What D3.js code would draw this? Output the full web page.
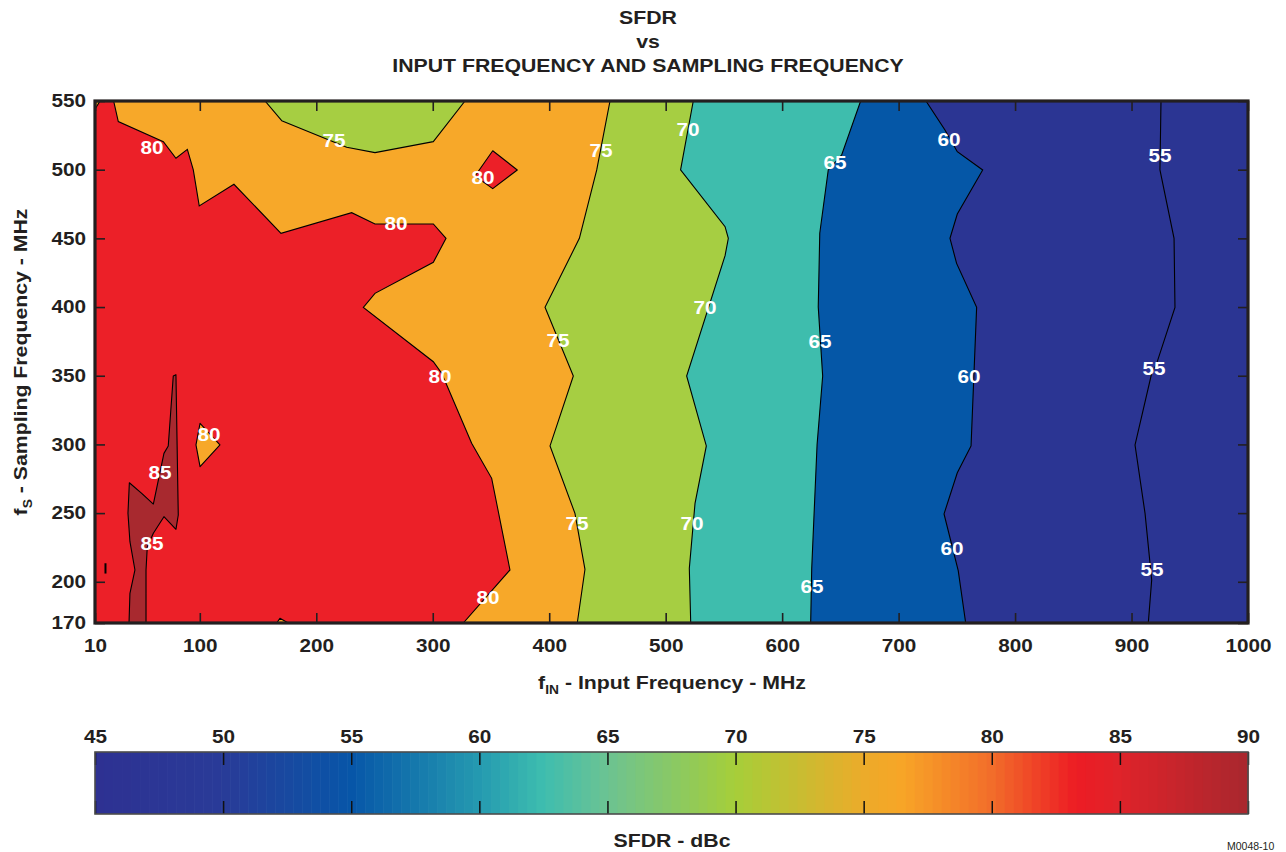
<!DOCTYPE html>
<html><head><meta charset="utf-8">
<script src="https://cdn.jsdelivr.net/npm/d3@7/dist/d3.min.js"></script>
<style>
body{margin:0;background:#fff;}
svg text{font-family:"Liberation Sans",Arial,Helvetica,sans-serif;font-weight:bold;fill:#231f20;}
</style></head><body>
<svg id="chart" width="1286" height="852"></svg>
<script>
// ---------- data ----------
const xTicks = [10,100,200,300,400,500,600,700,800,900,1000];
const yTicks = [170,200,250,300,350,400,450,500,550];
const cbTicks = [45,50,55,60,65,70,75,80,85,90];

// band fill colours
const bandColors = {b50:"#2b3593", b55:"#2b3593", b60:"#0557a7", b65:"#3ebdad", b70:"#a6ce42", b75:"#f7a829", b80:"#ec2028", b85:"#a8292f"};

// colour bar stops
const cbStops  = [45,50,55,60,62.5,65,70,75,76.5,80,83.3,85,90];
const cbColors = ["#2e3192","#293b98","#0756a8","#249ab0","#3ebdaf","#6cc392","#a6ce39","#ecab2a","#f7a527","#f26d2a","#ed1c24","#df232a","#a8272e"];

// contour boundaries [fIN, fS], listed from fS=550 down to fS=170
const c80 = [[26,550],[30,535],[68.7,520.4],[79.5,508.3],[89.3,514.8],[94.4,499.8],[99.5,473.6],[129.3,489.4],[169.7,453.7],[230.4,468.7],[250.4,460.5],[300.5,460.5],[311.4,450],[300.5,432.6],[250.4,410],[240.4,399.8],[300.5,360.2],[307.7,351.8],[333.4,300.8],[350.6,275.3],[366.3,208.6],[326.2,170]];
const c75 = [[452.2,550],[440.8,499.8],[425.9,450],[396.4,399.8],[420.7,349.8],[400.7,298.9],[422.1,249.8],[430.7,209.1],[424.1,170]];
const c70 = [[523.7,550],[512.8,499.8],[551,458.5],[553.8,450],[551,437.4],[518,349.8],[534.9,298.9],[525.2,257.1],[520.3,209.8],[521.5,170]];
const c65 = [[667.4,550],[651.1,510.7],[639.6,499.8],[632.3,453.7],[631,400],[634.8,349.8],[630,300],[625.4,209.8],[624.5,170]];
const c60 = [[723.5,550],[739.8,528.9],[750.4,513.1],[772.2,499.8],[750.4,467.7],[744.1,450],[749.8,431.8],[767,399.8],[762.2,298.9],[750.4,279.4],[739,249.4],[751.2,208.1],[757.6,170]];
const c55 = [[925.3,550],[924.4,499.8],[936.5,450],[937.3,399.8],[921.6,359],[917.3,351.8],[903,299.6],[911.6,249.8],[917.3,201.3],[914.4,170]];

// closed islands
const island75 = [[156,550],[170.3,535.7],[226.1,516.3],[250.4,512.4],[300.5,520.4],[327.7,550]];
const island80hi = [[351.5,513.8],[372.6,499.8],[351.5,486.2],[336.3,495.4]];
const island80lo = [[100.2,315.4],[117.3,299.6],[100.2,283.8],[96.7,299.6]];
const region85 = [[39.2,170],[40,191.6],[44.3,208.6],[40,229.2],[38.3,249.9],[39.5,272.1],[50.1,264.4],[60.1,256.6],[69.2,293.5],[72.9,298.9],[77.2,349.8],[79.5,350.8],[81.5,248.6],[79.5,238.2],[69.2,247.4],[60.1,235.3],[54.9,225.5],[53.8,208.6],[53.8,170]];
const sliverBottom = [[166,170],[168.8,173.4],[175.9,170]];
const sliverCorner = [[10,550],[14.3,550],[10,544]];
const speck85 = [[19,213.5],[19,206]];

// contour labels [fIN, fS, level]
const labelF  = [58.9,215.2,343.1,444.5,519.2,743.3,645.4,924.4,268.4,533.8,407.5,632.5,306.2,760.4,919.3,107.9,65.8,423.9,522.6,58.9,745.8,625.6,917.6,347.4];
const labelFs = [515.8,520.9,494,513.6,528.9,522.3,504.9,510,460.5,399.3,375.3,374.6,349.1,349.1,355.6,306.9,279.9,242.1,242.1,228.2,223.9,196.2,208.6,188.9];
const labelV  = [80,75,80,75,70,60,65,55,80,70,75,65,80,60,55,80,85,75,70,85,60,65,55,80];

// ---------- drawing ----------
const svg = d3.select("#chart");
const x = d3.scaleLinear([10,1000],[95,1248]);
const y = d3.scaleLinear([170,550],[623,101]);
const line = d3.line().x(d=>x(d[0])).y(d=>y(d[1]));
const inkColor = "#231f20";
const K = 1.15; // horizontal stretch of the reference lettering

function stretch(sel){
  sel.each(function(){
    const t = d3.select(this);
    const xa = +t.attr("x") || 0;
    const prev = t.attr("transform") || "";
    t.attr("transform", `${prev} translate(${xa},0) scale(${K},1) translate(${-xa},0)`);
  });
}

svg.append("defs").append("clipPath").attr("id","plotclip")
  .append("rect").attr("x",95).attr("y",101).attr("width",1153).attr("height",522);

const plot = svg.append("g").attr("clip-path","url(#plotclip)");

plot.append("rect").attr("x",x(10)).attr("y",y(550)).attr("width",x(1000)-x(10)).attr("height",y(170)-y(550)).attr("fill",bandColors.b80);

const rightOf = b => b.concat([[1000,170],[1000,550]]);
const bands = [[c80,bandColors.b75],[c75,bandColors.b70],[c70,bandColors.b65],[c65,bandColors.b60],[c60,bandColors.b55],[c55,bandColors.b50]];
bands.forEach(([b,col])=>{
  plot.append("path").attr("d",line(rightOf(b))+"Z").attr("fill",col).attr("stroke","none");
});
const islands = [[island75,bandColors.b70],[island80hi,bandColors.b80],[island80lo,bandColors.b75],[region85,bandColors.b85],[sliverBottom,bandColors.b75],[sliverCorner,bandColors.b75]];
islands.forEach(([p,col])=>{
  plot.append("path").attr("d",line(p)+"Z").attr("fill",col).attr("stroke","#000").attr("stroke-width",1.1).attr("stroke-linejoin","round");
});
[c80,c75,c70,c65,c60,c55].forEach(b=>{
  plot.append("path").attr("d",line(b)).attr("fill","none").attr("stroke","#000").attr("stroke-width",1.1);
});
plot.append("path").attr("d",line(speck85)).attr("fill","none").attr("stroke","#000").attr("stroke-width",2);

// contour labels
plot.selectAll("text.cl").data(labelV.map((v,i)=>({v,f:labelF[i],s:labelFs[i]}))).join("text")
  .attr("class","cl").attr("x",d=>x(d.f)).attr("y",d=>y(d.s)).attr("dy","0.36em")
  .attr("text-anchor","middle").style("fill","#fff").style("font-size","18px").text(d=>d.v)
  .call(stretch);

// axes
const fs = "18px";
const gx = svg.append("g").attr("transform","translate(0,623)")
  .call(d3.axisBottom(x).tickValues(xTicks).tickFormat(d3.format("d")).tickSize(-10).tickPadding(16));
const gxt = svg.append("g").attr("transform","translate(0,101)")
  .call(d3.axisTop(x).tickValues(xTicks).tickFormat("").tickSize(-10));
const gy = svg.append("g").attr("transform","translate(95,0)")
  .call(d3.axisLeft(y).tickValues(yTicks).tickFormat(d3.format("d")).tickSize(-10).tickPadding(9));
const gyr = svg.append("g").attr("transform","translate(1248,0)")
  .call(d3.axisRight(y).tickValues(yTicks).tickFormat("").tickSize(-10));
[gx,gxt,gy,gyr].forEach(g=>{
  g.select(".domain").remove();
  g.selectAll(".tick line").attr("stroke",inkColor).attr("stroke-width",1.6);
  g.selectAll(".tick text").style("font-size",fs).style("font-family","Liberation Sans, Arial, sans-serif").style("font-weight","bold").attr("fill",inkColor).call(stretch);
});

// frame
svg.append("rect").attr("x",95).attr("y",101).attr("width",1153).attr("height",522)
  .attr("fill","none").attr("stroke",inkColor).attr("stroke-width",3.2);

// titles
const title = svg.append("text").attr("x",648).attr("text-anchor","middle").style("font-size","18.5px");
title.append("tspan").attr("x",648).attr("y",24).text("SFDR");
title.append("tspan").attr("x",648).attr("y",48).text("vs");
title.append("tspan").attr("x",648).attr("y",72).text("INPUT FREQUENCY AND SAMPLING FREQUENCY");
stretch(title);

const xt = svg.append("text").attr("x",672).attr("y",689).attr("text-anchor","middle").style("font-size","18.5px");
xt.append("tspan").text("f");
xt.append("tspan").attr("dy",5).style("font-size","12px").text("IN");
xt.append("tspan").attr("dy",-5).text(" - Input Frequency - MHz");
stretch(xt);

const yt = svg.append("text").attr("transform","translate(27,362) rotate(-90)").attr("text-anchor","middle").style("font-size","18.5px");
yt.append("tspan").text("f");
yt.append("tspan").attr("dy",5).style("font-size","12px").text("S");
yt.append("tspan").attr("dy",-5).text(" - Sampling Frequency - MHz");
stretch(yt);

// colour bar
const cb = d3.scaleLinear([45,90],[95,1248]);
const cbColor = d3.scaleLinear(cbStops,cbColors);
const nSteps = 128;
const steps = d3.range(nSteps).map(i=>45+i*45/nSteps);
svg.append("g").selectAll("rect").data(steps).join("rect")
  .attr("x",d=>cb(d)).attr("y",752).attr("width",d=>cb(d+45/nSteps)-cb(d)+0.6).attr("height",62)
  .attr("fill",d=>cbColor(d+45/nSteps/2));
const gcb = svg.append("g").attr("transform","translate(0,752)")
  .call(d3.axisTop(cb).tickValues(cbTicks).tickFormat(d3.format("d")).tickSize(-13).tickPadding(9));
const gcb2 = svg.append("g").attr("transform","translate(0,814)")
  .call(d3.axisBottom(cb).tickValues(cbTicks).tickFormat("").tickSize(-13));
[gcb,gcb2].forEach(g=>{
  g.select(".domain").remove();
  g.selectAll(".tick line").attr("stroke","#111").attr("stroke-width",1.5);
  g.selectAll(".tick text").style("font-size",fs).style("font-family","Liberation Sans, Arial, sans-serif").style("font-weight","bold").attr("fill",inkColor).call(stretch);
});
svg.append("rect").attr("x",95).attr("y",752).attr("width",1153).attr("height",62)
  .attr("fill","none").attr("stroke","#4d4d4d").attr("stroke-width",1.6);
svg.append("text").attr("x",672).attr("y",847).attr("text-anchor","middle").style("font-size","18.5px").text("SFDR - dBc").call(stretch);
svg.append("text").attr("x",1227).attr("y",850).style("font-size","10.5px").style("font-weight","normal").text("M0048-10");
</script>
</body></html>
